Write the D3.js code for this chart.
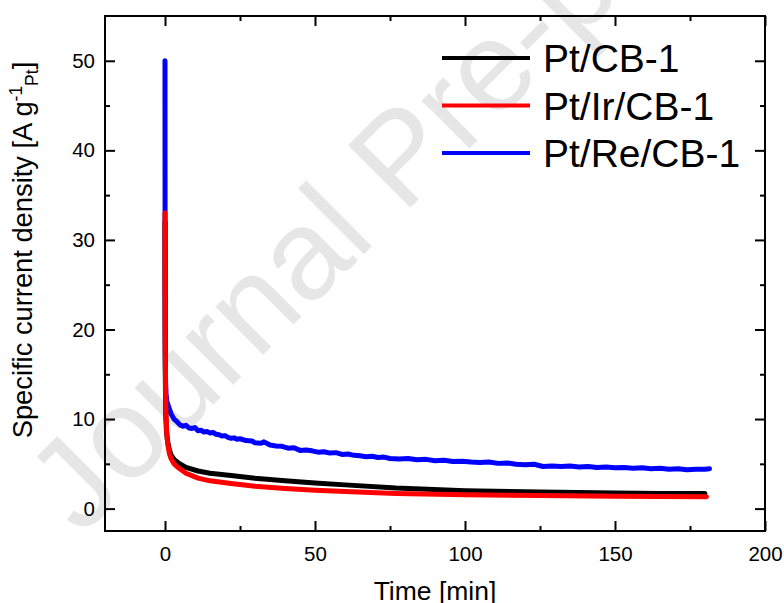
<!DOCTYPE html>
<meta charset="utf-8">
<title>Specific current density vs time</title>
<style>
body { margin: 0; background: #fff; }
svg { font-family: Arial, "Liberation Sans", sans-serif; }
.tick text { font-size: 20.5px; fill: #000; }
.tick line { stroke: #000; stroke-width: 2px; }
.series { fill: none; stroke-width: 5px; stroke-linejoin: round; stroke-linecap: round; }
</style>
<body>
<script src="https://d3js.org/d3.v7.min.js"></script>
<script>

var width = 784,
    height = 603;

// Pt/CB-1
var tBlack = [0, 0.02, 0.05, 0.1, 0.2, 0.3, 0.5, 0.75, 1, 1.5, 2, 3, 4.7, 7, 11, 15, 22, 30, 40, 50, 60, 77, 100, 125, 150, 165, 180];
var yBlack = [32, 25, 19, 15, 11.5, 10, 8.6, 7.8, 7.3, 6.5, 6.0, 5.5, 5.05, 4.6, 4.2, 3.95, 3.7, 3.4, 3.1, 2.85, 2.65, 2.3, 2.0, 1.85, 1.75, 1.7, 1.68];

// Pt/Ir/CB-1
var tRed = [0, 0.02, 0.05, 0.1, 0.2, 0.3, 0.5, 0.75, 1, 1.5, 2, 3, 4.7, 7, 11, 15, 22, 30, 40, 50, 60, 77, 100, 125, 150, 165, 180.5];
var yRed = [33, 28, 24, 18, 13, 11, 9, 7.8, 7.0, 6.1, 5.6, 5.0, 4.5, 3.95, 3.4, 3.1, 2.8, 2.5, 2.25, 2.05, 1.9, 1.7, 1.55, 1.45, 1.38, 1.35, 1.33];

// Pt/Re/CB-1
var tBlue = [0, 0.01, 0.03, 0.06, 0.1, 0.2, 0.35, 0.6, 1, 1.5, 2, 2.5, 3, 4, 5, 6, 7, 8, 9, 10,
  11, 12, 13, 14, 15, 16, 17, 18, 19, 20, 21, 22, 23, 24, 25, 27, 29, 30, 32, 33,
  35, 37, 39, 41, 43, 45, 47, 49, 51, 53, 55, 57, 59, 61, 63, 65, 67, 69, 71, 73,
  75, 78, 81, 84, 87, 90, 93, 96, 99, 102, 105, 108, 111, 114, 117, 120, 123, 126, 129, 132,
  135, 138, 141, 144, 147, 150, 153, 156, 159, 162, 165, 168, 171, 174, 177, 180, 181.5];
var yBlue = [50, 40, 30, 22, 17, 14, 12.8, 12.0, 11.6, 11.1, 10.6, 10.3, 10.0, 9.7, 9.35, 9.2, 9.3, 9.0, 8.95, 9.05,
  8.7, 8.75, 8.55, 8.6, 8.45, 8.5, 8.3, 8.25, 8.1, 8.15, 7.95, 7.85, 7.9, 7.75, 7.8, 7.6, 7.55, 7.35, 7.3, 7.45,
  7.1, 7.0, 6.95, 6.75, 6.8, 6.5, 6.55, 6.45, 6.3, 6.35, 6.2, 6.25, 6.05, 6.1, 5.95, 5.9, 5.8, 5.85, 5.7, 5.75,
  5.6, 5.55, 5.6, 5.45, 5.5, 5.35, 5.4, 5.25, 5.3, 5.2, 5.15, 5.2, 5.05, 5.1, 4.95, 4.9, 4.95, 4.7, 4.75, 4.7,
  4.75, 4.65, 4.7, 4.6, 4.65, 4.55, 4.6, 4.5, 4.55, 4.45, 4.5, 4.4, 4.45, 4.35, 4.4, 4.4, 4.45];

var seriesNames = ["Pt/CB-1", "Pt/Ir/CB-1", "Pt/Re/CB-1"];
var seriesColors = ["#000000", "#ff0000", "#0000ff"];

var xMajor = [0, 50, 100, 150, 200];
var xMinor = [25, 75, 125, 175];
var yMajor = [0, 10, 20, 30, 40, 50];
var yMinor = [5, 15, 25, 35, 45];

var x = d3.scaleLinear().domain([-20, 200]).range([105, 765]);
var y = d3.scaleLinear().domain([-2.5, 55]).range([531, 16]);

var svg = d3.select("body").append("svg")
    .attr("width", width)
    .attr("height", height);

// watermark
svg.append("text")
    .attr("transform", "translate(81,537) rotate(-45)")
    .attr("font-size", 128)
    .attr("fill", "#e6e6e6")
    .text("Journal Pre-proof");

function lineData(ts, vs) {
  return ts.map(function(t, i) { return [t, vs[i]]; });
}

var line = d3.line()
    .x(function(d) { return x(d[0]); })
    .y(function(d) { return y(d[1]); });

var data = [lineData(tBlack, yBlack), lineData(tRed, yRed), lineData(tBlue, yBlue)];
var order = [2, 0, 1];

var plot = svg.append("g");
plot.append("clipPath").attr("id", "clip")
  .append("rect")
    .attr("x", 105).attr("y", 16).attr("width", 660).attr("height", 515);

order.forEach(function(i) {
  plot.append("path")
      .datum(data[i])
      .attr("class", "series")
      .attr("clip-path", "url(#clip)")
      .attr("stroke", seriesColors[i])
      .attr("d", line);
});

// axes, ticks pointing inward
function addAxis(axis, tr, values, size, labels) {
  var g = svg.append("g")
      .attr("transform", tr)
      .call(axis.tickValues(values).tickSizeInner(-size).tickSizeOuter(0)
        .tickFormat(labels ? d3.format("d") : ""));
  g.select(".domain").remove();
  g.selectAll("text").attr("font-family", null).attr("font-size", null);
  return g;
}

addAxis(d3.axisBottom(x).tickPadding(15), "translate(0,531)", xMajor, 10, true);
addAxis(d3.axisBottom(x), "translate(0,531)", xMinor, 5, false);
addAxis(d3.axisTop(x), "translate(0,16)", xMajor, 10, false);
addAxis(d3.axisTop(x), "translate(0,16)", xMinor, 5, false);
addAxis(d3.axisLeft(y).tickPadding(10), "translate(105,0)", yMajor, 10, true);
addAxis(d3.axisLeft(y), "translate(105,0)", yMinor, 5, false);
addAxis(d3.axisRight(y), "translate(765,0)", yMajor, 10, false);
addAxis(d3.axisRight(y), "translate(765,0)", yMinor, 5, false);

svg.append("rect")
    .attr("x", 105).attr("y", 16)
    .attr("width", 660).attr("height", 515)
    .attr("fill", "none")
    .attr("stroke", "#000")
    .attr("stroke-width", 2);

// axis titles
svg.append("text")
    .attr("x", 435).attr("y", 600)
    .attr("text-anchor", "middle")
    .attr("font-size", 26.5)
    .text("Time [min]");

var yl = svg.append("text")
    .attr("transform", "translate(32,250) rotate(-90)")
    .attr("text-anchor", "middle")
    .attr("font-size", 27.3);
yl.append("tspan").text("Specific current density [A g");
yl.append("tspan").attr("font-size", 17.5).attr("dy", -10).text("-1");
yl.append("tspan").attr("font-size", 17.5).attr("dy", 16).text("Pt");
yl.append("tspan").attr("dy", -6).text("]");

// legend
var legend = svg.append("g");
seriesNames.forEach(function(name, i) {
  var ly = 58 + i * 47.5;
  legend.append("line")
      .attr("x1", 442).attr("x2", 530)
      .attr("y1", ly).attr("y2", ly)
      .attr("stroke", seriesColors[i])
      .attr("stroke-width", 4);
  legend.append("text")
      .attr("x", 543).attr("y", ly + 14)
      .attr("font-size", 39)
      .text(name);
});

</script>
</body>
</html>
